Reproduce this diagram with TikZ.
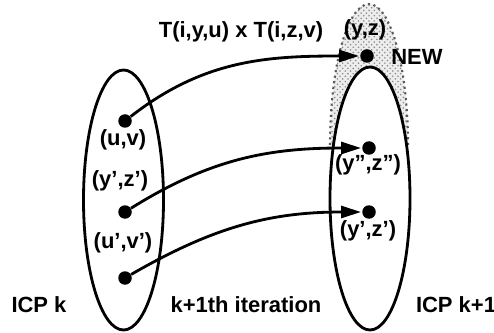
\documentclass[tikz,border=0pt]{standalone}
\usepackage{fontspec}
\setmainfont{Liberation Sans}
\usepackage{xcolor}
\definecolor{stipple}{rgb}{0.93,0.93,0.93}
\definecolor{stippledot}{rgb}{0.55,0.55,0.55}
\definecolor{stippleline}{rgb}{0.35,0.35,0.35}
\usepackage{tikz}
\usetikzlibrary{arrows.meta, positioning, patterns}

\begin{document}
\begin{tikzpicture}[scale=1.0, >={Triangle[length=0.4cm, width=0.24cm]},
  font=\fontsize{12.5}{15}\selectfont\bfseries,
  dot/.style={circle, fill=black, inner sep=0pt, minimum size=0.27cm},
  flow/.style={->, line width=1.6pt, shorten >=0.5pt}]
\useasboundingbox (0,0) rectangle (9.88,6.64);
% new pair region (stippled cap)
\fill[stipple] (6.60,3.74) arc (180:0:0.78 and 2.82) -- cycle;
\fill[pattern=crosshatch dots, pattern color=stippledot] (6.60,3.74) arc (180:0:0.78 and 2.82) -- cycle;
\draw[stippleline, dotted, line width=1.2pt] (6.60,3.74) arc (180:0:0.78 and 2.82);
% ICP ellipses
\draw[line width=1.6pt] (2.47,2.64) ellipse (0.80 and 2.60);
\draw[line width=1.6pt, fill=white] (7.40,2.67) ellipse (0.80 and 2.63);
% pairs in ICP k
\node[dot] (uv) at (2.50,4.22) {};
\node[dot] (ypzp) at (2.50,2.40) {};
\node[dot] (upvp) at (2.50,1.08) {};
\node (uvlab) at (2.46,3.84) {(u,v)};
\node (ypzplab) at (2.40,3.02) {(y',z')};
\node (upvplab) at (2.46,1.78) {(u',v')};
% pairs in ICP k+1
\node[dot] (new) at (7.34,5.52) {};
\node[dot] (yppzpp) at (7.38,3.68) {};
\node[dot] (ypzpnext) at (7.38,2.40) {};
\node (yzlab) at (7.30,6.04) {(y,z)};
\node (newlab) at (8.34,5.50) {NEW};
\node (yppzpplab) at (7.36,3.34) {(y'',z'')};
\node (ypzpnextlab) at (7.36,2.02) {(y',z')};
% transitions
\draw[flow] (uv) to[out=38, in=180] (new);
\draw[flow] (ypzp) to[out=32, in=180] (yppzpp);
\draw[flow] (upvp) to[out=30, in=180] (ypzpnext);
\node (prod) at (4.82,6.00) {T(i,y,u) x T(i,z,v)};
% captions
\node (icpk) at (0.78,0.54) {ICP k};
\node (iter) at (4.92,0.54) {k+1th iteration};
\node (icpk1) at (9.12,0.54) {ICP k+1};
\end{tikzpicture}
\end{document}
